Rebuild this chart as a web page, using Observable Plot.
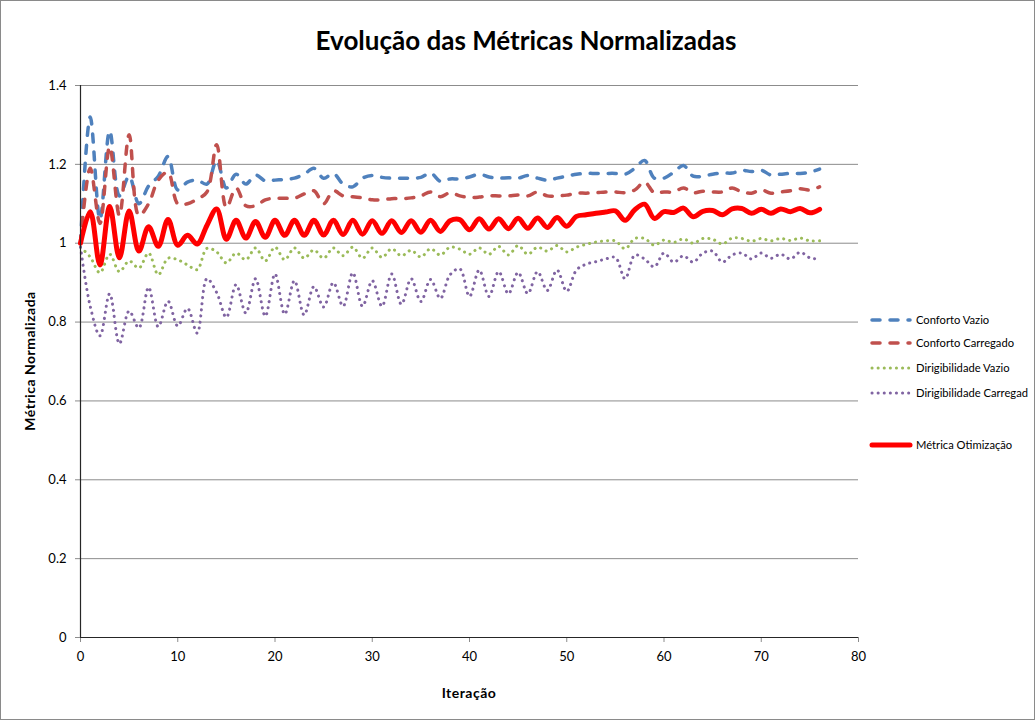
<!DOCTYPE html>
<html>
<head>
<meta charset="utf-8">
<script src="https://cdn.jsdelivr.net/npm/d3@7"></script>
<script src="https://cdn.jsdelivr.net/npm/@observablehq/plot@0.6"></script>
<style>
  body { margin: 0; background: #fff; }
  #wrap { position: relative; width: 1035px; height: 720px; overflow: hidden; background: #fff;
          font-family: Lato, "Liberation Sans", sans-serif; color: #000; }
  #frame { position: absolute; left: 0; top: 0; width: 1033px; height: 718px; border: 1px solid #8a8a8a; pointer-events: none; }
  #title { position: absolute; left: 0; top: 24px; width: 1052px; text-align: center; font-weight: bold; font-size: 26px; line-height: 32px; }
  #chart { position: absolute; left: 0; top: 0; }
  .axlab { position: absolute; font-weight: bold; font-size: 14px; letter-spacing: 0.5px; white-space: nowrap; line-height: 16px; }
  #xlab { left: 369px; width: 200px; top: 685px; text-align: center; }
  #ylab { left: 30px; top: 361px; width: 200px; text-align: center; transform: translate(-50%, -50%) rotate(-90deg); }
  .leg { position: absolute; left: 868px; width: 166px; height: 16px; line-height: 16px; font-size: 11.2px; white-space: nowrap; }
  .leg svg { position: absolute; left: 0; top: 3px; }
  .leg span { position: absolute; left: 48px; top: 0; }
</style>
</head>
<body>
<div id="wrap">
  <div id="chart"></div>
  <div id="title">Evolução das Métricas Normalizadas</div>
  <div id="xlab" class="axlab">Iteração</div>
  <div id="ylab" class="axlab">Métrica Normalizada</div>
  <div id="legend"></div>
  <div id="frame"></div>
</div>
<script>
// ---- Data ----
const seriesNames = ["Conforto Vazio", "Conforto Carregado", "Dirigibilidade Vazio", "Dirigibilidade Carregad", "Métrica Otimização"];

const confortoVazio = [1.0, 1.32, 1.06, 1.285, 1.12, 1.17, 1.10, 1.145, 1.17, 1.22,
 1.135, 1.155, 1.16, 1.15, 1.21, 1.14, 1.175, 1.15, 1.173, 1.158,
 1.16, 1.162, 1.165, 1.175, 1.19, 1.165, 1.177, 1.15, 1.143, 1.165,
 1.172, 1.167, 1.165, 1.165, 1.165, 1.167, 1.178, 1.157, 1.163, 1.163,
 1.168, 1.175, 1.168, 1.165, 1.166, 1.165, 1.172, 1.165, 1.16, 1.165,
 1.17, 1.175, 1.177, 1.177, 1.177, 1.177, 1.175, 1.19, 1.21, 1.165,
 1.165, 1.18, 1.197, 1.17, 1.17, 1.175, 1.178, 1.178, 1.185, 1.182,
 1.185, 1.173, 1.175, 1.177, 1.177, 1.18, 1.188];

const confortoCarregado = [1.0, 1.19, 1.05, 1.245, 1.07, 1.275, 1.07, 1.10, 1.16, 1.18,
 1.10, 1.10, 1.112, 1.13, 1.25, 1.09, 1.14, 1.095, 1.095, 1.11,
 1.114, 1.114, 1.114, 1.125, 1.133, 1.10, 1.133, 1.12, 1.118, 1.115,
 1.11, 1.11, 1.113, 1.113, 1.115, 1.12, 1.13, 1.118, 1.128, 1.12,
 1.116, 1.117, 1.12, 1.12, 1.12, 1.122, 1.12, 1.13, 1.12, 1.12,
 1.122, 1.127, 1.127, 1.128, 1.13, 1.13, 1.128, 1.135, 1.155, 1.128,
 1.13, 1.13, 1.14, 1.128, 1.132, 1.13, 1.13, 1.14, 1.13, 1.127,
 1.135, 1.127, 1.13, 1.133, 1.138, 1.135, 1.143];

const dirigVazio = [0.99, 0.965, 0.925, 0.972, 0.928, 0.955, 0.937, 0.975, 0.92, 0.962,
 0.958, 0.945, 0.933, 0.987, 0.978, 0.95, 0.975, 0.958, 0.988, 0.955,
 0.99, 0.958, 0.988, 0.962, 0.983, 0.962, 0.988, 0.968, 0.99, 0.962,
 0.988, 0.964, 0.986, 0.968, 0.982, 0.965, 0.986, 0.97, 0.99, 0.985,
 0.972, 0.988, 0.972, 0.992, 0.97, 0.994, 0.972, 0.99, 0.98, 0.994,
 0.978, 0.99, 0.997, 1.003, 1.006, 1.006, 0.986, 1.012, 1.012, 0.995,
 1.008, 1.002, 1.011, 1.0, 1.012, 1.01, 0.998, 1.013, 1.012, 1.005,
 1.012, 1.006, 1.012, 1.007, 1.013, 1.006, 1.006];

const dirigCarregado = [0.99, 0.84, 0.765, 0.872, 0.745, 0.828, 0.785, 0.888, 0.788, 0.853,
 0.79, 0.835, 0.772, 0.91, 0.875, 0.812, 0.895, 0.823, 0.91, 0.815,
 0.922, 0.82, 0.905, 0.818, 0.89, 0.838, 0.9, 0.84, 0.925, 0.84,
 0.905, 0.84, 0.922, 0.845, 0.91, 0.852, 0.908, 0.86, 0.92, 0.935,
 0.865, 0.932, 0.865, 0.928, 0.872, 0.926, 0.872, 0.928, 0.88, 0.932,
 0.878, 0.932, 0.947, 0.953, 0.96, 0.964, 0.91, 0.97, 0.96, 0.94,
 0.975, 0.952, 0.968, 0.952, 0.975, 0.98, 0.952, 0.97, 0.975, 0.96,
 0.975, 0.962, 0.972, 0.96, 0.977, 0.963, 0.96];

const metricaOtim = [1.0, 1.08, 0.945, 1.093, 0.963, 1.082, 0.98, 1.042, 0.992, 1.06,
 0.995, 1.02, 0.998, 1.045, 1.087, 1.01, 1.058, 1.013, 1.055, 1.015,
 1.058, 1.02, 1.058, 1.02, 1.058, 1.021, 1.058, 1.022, 1.058, 1.023,
 1.057, 1.025, 1.057, 1.027, 1.057, 1.028, 1.058, 1.03, 1.057, 1.06,
 1.034, 1.062, 1.036, 1.062, 1.037, 1.063, 1.038, 1.064, 1.04, 1.065,
 1.043, 1.068, 1.072, 1.076, 1.079, 1.082, 1.058, 1.085, 1.099, 1.063,
 1.08, 1.078, 1.089, 1.067, 1.081, 1.083, 1.072, 1.087, 1.088, 1.076,
 1.086, 1.076, 1.087, 1.08, 1.088, 1.077, 1.086];

const xTicks = [0, 10, 20, 30, 40, 50, 60, 70, 80];
const xTickLabels = ["0", "10", "20", "30", "40", "50", "60", "70", "80"];
const yTicks = [0, 0.2, 0.4, 0.6, 0.8, 1, 1.2, 1.4];
const yTickLabels = ["0", "0.2", "0.4", "0.6", "0.8", "1", "1.2", "1.4"];

// ---- Styles ----
const seriesValues = [confortoVazio, confortoCarregado, dirigVazio, dirigCarregado, metricaOtim];
const styles = [
  {stroke: "#4F81BD", width: 3.5, dash: "8,10", cap: "round"},
  {stroke: "#C0504D", width: 3.5, dash: "8,10", cap: "round"},
  {stroke: "#9BBB59", width: 3, dash: "0.1,6", cap: "round"},
  {stroke: "#8064A2", width: 3, dash: "0.1,6", cap: "round"},
  {stroke: "#FF0000", width: 5, dash: null, cap: "round"}
];

const tables = seriesValues.map((vals, s) => vals.map((v, i) => ({i, v, series: seriesNames[s]})));

const lineMarks = tables.map((rows, s) => Plot.line(rows, {
  x: "i", y: "v", curve: "catmull-rom",
  stroke: styles[s].stroke, strokeWidth: styles[s].width,
  strokeDasharray: styles[s].dash || undefined, strokeLinecap: styles[s].cap, strokeLinejoin: "round"
}));

const chart = Plot.plot({
  width: 1035, height: 720,
  marginLeft: 80, marginRight: 177, marginTop: 85, marginBottom: 83,
  style: {fontFamily: "Lato, 'Liberation Sans', sans-serif", fontSize: "13px", color: "#000", background: "transparent"},
  x: {domain: [0, 80]},
  y: {domain: [0, 1.4]},
  marks: [
    Plot.gridY(yTicks, {stroke: "#8c8c8c", strokeOpacity: 1, strokeWidth: 1}),
    Plot.axisY(yTicks, {tickSize: 5, tickPadding: 9, stroke: "#8c8c8c", fontSize: 13,
      tickFormat: d => yTickLabels[yTicks.indexOf(d)], label: null}),
    Plot.axisX(xTicks, {tickSize: 5, tickPadding: 9, stroke: "#8c8c8c", fontSize: 13,
      tickFormat: d => xTickLabels[xTicks.indexOf(d)], label: null}),
    ...lineMarks,
    Plot.ruleX([0], {stroke: "#262626", strokeWidth: 1.2}),
    Plot.ruleY([0], {stroke: "#262626", strokeWidth: 1.2})
  ]
});
document.getElementById("chart").appendChild(chart);

// ---- Legend ----
const legendY = [320, 343, 368, 393, 445];
const legend = document.getElementById("legend");
seriesNames.forEach((name, s) => {
  const st = styles[s];
  const div = document.createElement("div");
  div.className = "leg";
  div.style.top = (legendY[s] - 8) + "px";
  div.innerHTML = `<svg width="46" height="10"><line x1="4" y1="5" x2="42" y2="5" stroke="${st.stroke}" stroke-width="${st.width}" ${st.dash ? `stroke-dasharray="${st.dash}"` : ""} stroke-linecap="${st.cap}"/></svg><span>${name}</span>`;
  legend.appendChild(div);
});
</script>
</body>
</html>
